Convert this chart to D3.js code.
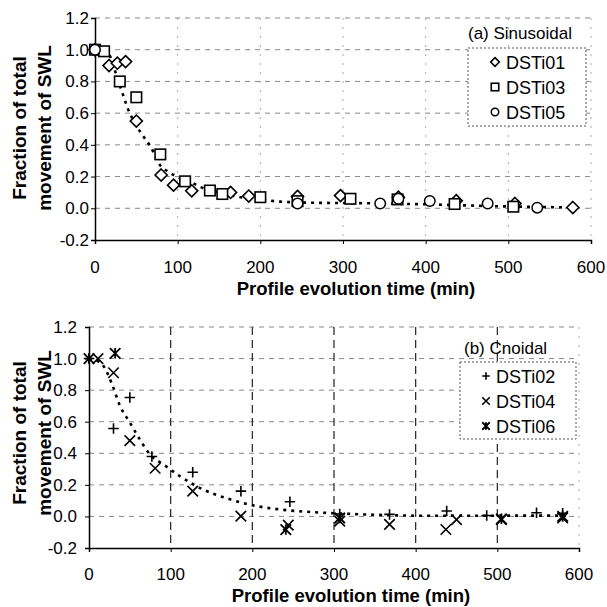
<!DOCTYPE html>
<html>
<head>
<meta charset="utf-8">
<script src="https://cdn.jsdelivr.net/npm/d3@7"></script>
<style>
  body { margin: 0; background: #fff; }
  svg text { font-family: "Liberation Sans", Arial, sans-serif; fill: #000; }
</style>
</head>
<body>
<script>
// --- data (time in min, fraction of SWL movement) ---
const xTicks = [0, 100, 200, 300, 400, 500, 600];
const yTicks = [-0.2, 0.0, 0.2, 0.4, 0.6, 0.8, 1.0, 1.2];

// (a) sinusoidal
const dsti01 = [[0,1.0],[17,0.90],[27,0.915],[37,0.925],[50,0.55],[80,0.21],[95,0.146],[117,0.11],[164,0.10],[186,0.077],[245,0.075],[297,0.08],[367,0.07],[437,0.048],[508,0.03],[578,0.005]];
const dsti03 = [[0,1.0],[11,0.99],[30,0.80],[50,0.70],[79,0.34],[109,0.17],[139,0.112],[154,0.09],[200,0.07],[245,0.045],[309,0.06],[366,0.056],[435,0.027],[506,0.01]];
const dsti05 = [[0,1.0],[245,0.03],[345,0.03],[367,0.06],[405,0.046],[475,0.03],[535,0.004]];
const fitA = [[0,1.0],[10,0.99],[18,0.96],[24,0.87],[31,0.76],[42,0.60],[49,0.53],[59,0.45],[67,0.39],[79,0.27],[89,0.23],[99,0.2],[118,0.16],[127,0.135],[143,0.11],[176,0.07],[208,0.05],[224,0.042],[264,0.035],[325,0.032],[400,0.025],[495,0.012],[580,0.005]];

// (b) cnoidal
const dsti02 = [[0,1.0],[30,0.557],[50,0.753],[77,0.38],[127,0.28],[186,0.16],[246,0.093],[307,0.015],[368,0.013],[438,0.034],[487,0.006],[548,0.023],[580,0.02]];
const dsti04 = [[11,1.0],[30,0.91],[50,0.48],[81,0.305],[127,0.16],[186,0.002],[244,-0.055],[307,-0.03],[368,-0.05],[437,-0.083],[450,-0.02],[505,-0.02],[580,-0.01]];
const dsti06 = [[0,1.0],[32,1.033],[241,-0.083],[307,-0.01],[505,-0.015],[580,0.0]];
const fitB = [[0,1.0],[8,0.99],[17.5,0.955],[28,0.84],[38,0.70],[50,0.595],[62,0.49],[75,0.39],[91,0.33],[111,0.256],[140,0.17],[173,0.108],[201,0.07],[234,0.044],[275,0.027],[336,0.013],[417,0.004],[540,0.005],[585,0.005]];

const panels = [
  {
    x0: 95, x1: 591, yTop: 18, yBot: 240, labelRight: 89, tickLabelY: 273, titleX: 356, titleY: 295,
    yTitleY: 128, vGridStrong: false,
    tag: "(a) Sinusoidal", tagX: 468, tagY: 39,
    legend: { x: 468, y: 48, w: 118, h: 78, symX: 495, textX: 506, rows: [62, 87, 112] },
    series: [
      { name: "DSTi01", data: dsti01, shape: "diamond" },
      { name: "DSTi03", data: dsti03, shape: "square" },
      { name: "DSTi05", data: dsti05, shape: "circle" }
    ],
    fit: fitA
  },
  {
    x0: 89, x1: 579, yTop: 327, yBot: 548, labelRight: 77, tickLabelY: 580, titleX: 351, titleY: 602,
    yTitleY: 433, vGridStrong: true,
    tag: "(b) Cnoidal", tagX: 464, tagY: 354,
    legend: { x: 460, y: 362, w: 116, h: 77, symX: 486, textX: 496, rows: [376, 401, 426] },
    series: [
      { name: "DSTi02", data: dsti02, shape: "plus" },
      { name: "DSTi04", data: dsti04, shape: "cross" },
      { name: "DSTi06", data: dsti06, shape: "star" }
    ],
    fit: fitB
  }
];

const svg = d3.select("body").append("svg").attr("width", 607).attr("height", 607);

// draws one marker centred on (cx, cy)
const marker = (g, shape, cx, cy, s) => {
  const h = s / 2;
  let p;
  switch (shape) {
    case "diamond":
      p = `M${cx},${cy - h * 1.15}L${cx + h * 1.15},${cy}L${cx},${cy + h * 1.15}L${cx - h * 1.15},${cy}Z`;
      g.append("path").attr("d", p).attr("fill", "#fff").attr("stroke", "#000").attr("stroke-width", 1.6);
      break;
    case "square":
      g.append("rect").attr("x", cx - h).attr("y", cy - h).attr("width", s).attr("height", s)
        .attr("fill", "#fff").attr("stroke", "#000").attr("stroke-width", 1.6);
      break;
    case "circle":
      g.append("circle").attr("cx", cx).attr("cy", cy).attr("r", h)
        .attr("fill", "#fff").attr("stroke", "#000").attr("stroke-width", 1.5);
      break;
    case "plus":
      p = `M${cx - h},${cy}H${cx + h}M${cx},${cy - h}V${cy + h}`;
      g.append("path").attr("d", p).attr("stroke", "#000").attr("stroke-width", 1.6);
      break;
    case "cross":
      p = `M${cx - h},${cy - h}L${cx + h},${cy + h}M${cx - h},${cy + h}L${cx + h},${cy - h}`;
      g.append("path").attr("d", p).attr("stroke", "#000").attr("stroke-width", 1.6);
      break;
    case "star":
      p = `M${cx - h},${cy - h}L${cx + h},${cy + h}M${cx - h},${cy + h}L${cx + h},${cy - h}M${cx},${cy - h}V${cy + h}`;
      g.append("path").attr("d", p).attr("stroke", "#000").attr("stroke-width", 1.8);
      break;
  }
};

panels.forEach((P) => {
  const x = d3.scaleLinear().domain([0, 600]).range([P.x0, P.x1]);
  const y = d3.scaleLinear().domain([-0.2, 1.2]).range([P.yBot, P.yTop]);
  const g = svg.append("g");

  // horizontal gridlines
  g.selectAll("line.hg").data(yTicks.slice(1)).enter().append("line")
    .attr("x1", P.x0).attr("x2", P.x1)
    .attr("y1", (d) => y(d)).attr("y2", (d) => y(d))
    .attr("stroke", "#888").attr("stroke-width", 1).attr("stroke-dasharray", "5,5");

  // vertical gridlines (the right border stays faint)
  g.selectAll("line.vg").data(xTicks.slice(1)).enter().append("line")
    .attr("x1", (d) => x(d)).attr("x2", (d) => x(d))
    .attr("y1", P.yTop).attr("y2", P.yBot)
    .each(function (d) {
      const strong = P.vGridStrong && d < 600;
      d3.select(this)
        .attr("stroke", strong ? "#222" : "#aaa")
        .attr("stroke-width", strong ? 1.2 : 1)
        .attr("stroke-dasharray", strong ? "8,5" : "2,7");
    });

  // axes (left and bottom solid)
  const xAxis = d3.axisBottom(x).tickValues(xTicks).tickSize(4).tickFormat("");
  const yAxis = d3.axisLeft(y).tickValues(yTicks).tickSize(4).tickFormat("");
  g.append("g").attr("transform", `translate(0,${P.yBot})`).call(xAxis)
    .call((a) => a.select(".domain").attr("stroke-width", 1.5));
  g.append("g").attr("transform", `translate(${P.x0},0)`).call(yAxis)
    .call((a) => a.select(".domain").attr("stroke-width", 1.5));

  // tick labels
  g.selectAll("text.xl").data(xTicks).enter().append("text")
    .attr("x", (d) => x(d)).attr("y", P.tickLabelY)
    .attr("text-anchor", "middle").attr("font-size", 17).text((d) => d);
  g.selectAll("text.yl").data(yTicks).enter().append("text")
    .attr("x", P.labelRight).attr("y", (d) => y(d) + 6)
    .attr("text-anchor", "end").attr("font-size", 17).text((d) => d.toFixed(1));

  // axis titles
  g.append("text").attr("x", P.titleX).attr("y", P.titleY)
    .attr("text-anchor", "middle").attr("font-size", 18.5).attr("font-weight", "bold")
    .text("Profile evolution time (min)");
  const yt = g.append("text").attr("transform", `translate(26,${P.yTitleY}) rotate(-90)`)
    .attr("text-anchor", "middle").attr("font-size", 19).attr("font-weight", "bold");
  yt.append("tspan").attr("x", 0).attr("y", 0).text("Fraction of total");
  yt.append("tspan").attr("x", 0).attr("y", 25).text("movement of SWL");

  // fitted curve
  const line = d3.line().x((d) => x(d[0])).y((d) => y(d[1])).curve(d3.curveMonotoneX);
  g.append("path").datum(P.fit).attr("d", line).attr("fill", "none")
    .attr("stroke", "#000").attr("stroke-width", 2.6).attr("stroke-dasharray", "3,5");

  // markers
  P.series.forEach((s) => {
    const sg = g.append("g");
    s.data.forEach((d) => marker(sg, s.shape, x(d[0]), y(d[1]), 10.5));
  });

  // legend
  const L = P.legend;
  g.append("rect").attr("x", L.x).attr("y", L.y).attr("width", L.w).attr("height", L.h)
    .attr("fill", "#fff").attr("stroke", "#555").attr("stroke-width", 1)
    .attr("stroke-dasharray", "2,2");
  P.series.forEach((s, i) => {
    marker(g, s.shape, L.symX, L.rows[i], 7.5);
    g.append("text").attr("x", L.textX).attr("y", L.rows[i] + 6.5)
      .attr("font-size", 18).text(s.name);
  });
  g.append("text").attr("x", P.tagX).attr("y", P.tagY).attr("font-size", 17).text(P.tag);
});
</script>
</body>
</html>
